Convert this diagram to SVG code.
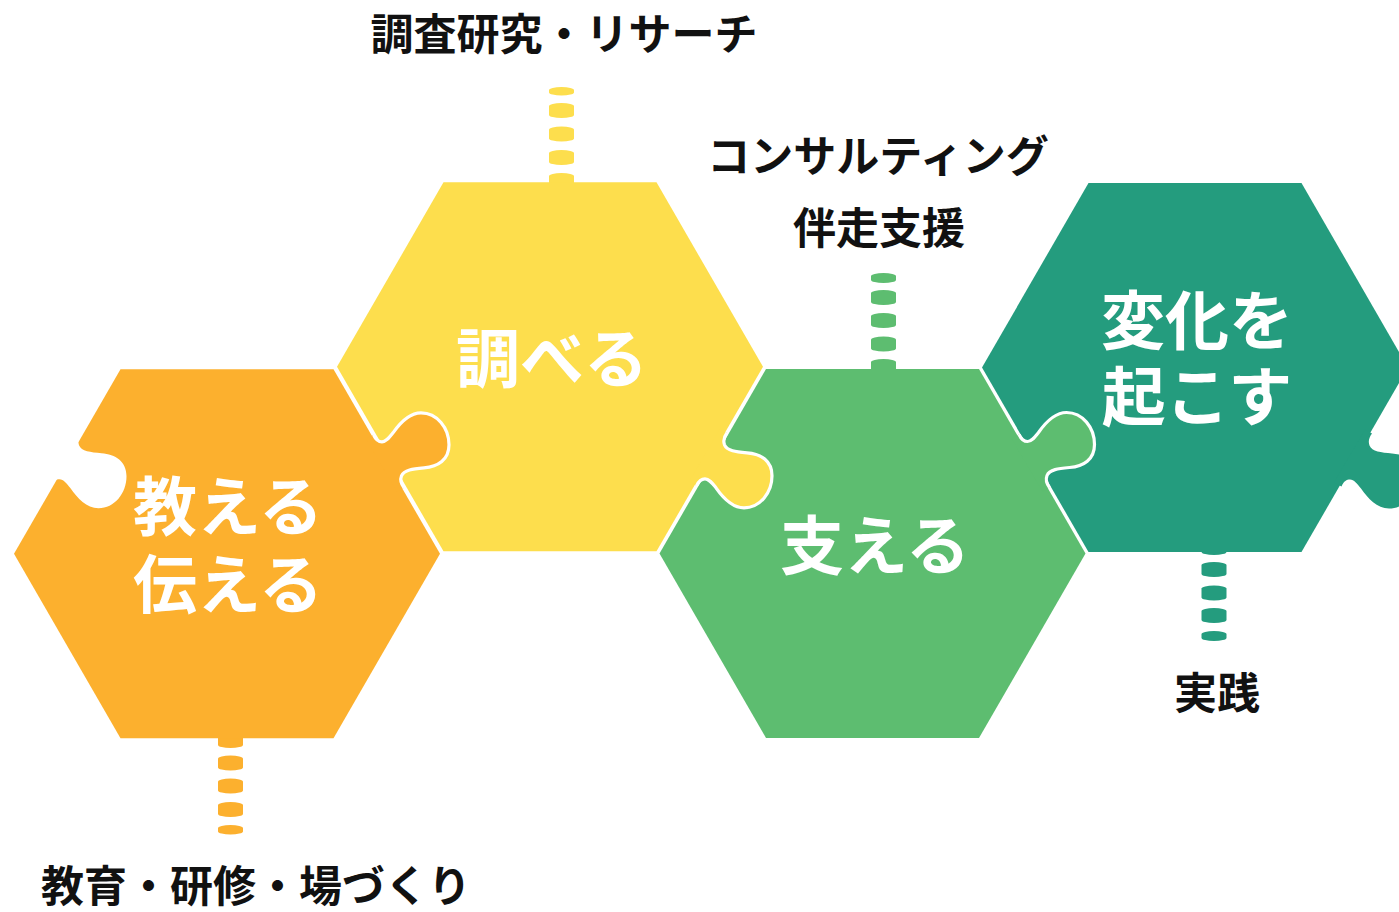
<svg xmlns="http://www.w3.org/2000/svg" xmlns:xlink="http://www.w3.org/1999/xlink" width="1399" height="912" viewBox="0 0 1399 912">
<style>
.lbl{font-family:"Noto Sans CJK JP","Noto Sans CJK SC",sans-serif;font-weight:700;font-size:43px;fill:#111;text-anchor:middle}
.hl{font-family:"Noto Sans CJK JP","Noto Sans CJK SC",sans-serif;font-weight:700;font-size:64px;fill:#fff;text-anchor:middle}
.ks{fill:none;stroke:#fff;stroke-width:3.2;stroke-linecap:butt;stroke-linejoin:round}
.or{fill:#FCB02E}.ye{fill:#FDDE4D}.gr{fill:#5DBD70}.te{fill:#249C7E}
</style>
<defs>
<polygon id="hex" points="-213,0 -106.5,-184.5 106.5,-184.5 213,0 106.5,184.5 -106.5,184.5"/>
<path id="knobFill" d="M146.5,-119 C149,-113.5 151.5,-112 155,-112 C159,-112 162,-116 166,-121 C173,-131 182,-141 194,-141 C210,-141 222,-126 222,-109 C222,-94 211,-87 197,-86 C186,-85 177,-84 174.5,-78 C173,-74 174,-70 177,-66 L170,-62 L139,-115 Z"/>
<path id="knobLine" d="M146.5,-119 C149,-113.5 151.5,-112 155,-112 C159,-112 162,-116 166,-121 C173,-131 182,-141 194,-141 C210,-141 222,-126 222,-109 C222,-94 211,-87 197,-86 C186,-85 177,-84 174.5,-78 C173,-74 174,-70 177,-66"/>
</defs>
<rect width="1399" height="912" fill="#fff"/>
<g id="connectors">
<g class="ye">
<rect x="549" y="87" width="25" height="8.5" rx="12.5" ry="3"/>
<rect x="549" y="103" width="25" height="15" rx="12.5" ry="3"/>
<rect x="549" y="126.5" width="25" height="15" rx="12.5" ry="3"/>
<rect x="549" y="150" width="25" height="15" rx="12.5" ry="3"/>
<rect x="549" y="173" width="25" height="14" rx="12.5" ry="3"/>
</g>
<g class="gr">
<rect x="871" y="273" width="25" height="10" rx="12.5" ry="3"/>
<rect x="871" y="290" width="25" height="15" rx="12.5" ry="3"/>
<rect x="871" y="313" width="25" height="15" rx="12.5" ry="3"/>
<rect x="871" y="336.5" width="25" height="15" rx="12.5" ry="3"/>
<rect x="871" y="359" width="25" height="14" rx="12.5" ry="3"/>
</g>
<g class="or">
<rect x="218" y="733" width="25" height="15" rx="12.5" ry="3"/>
<rect x="218" y="755.5" width="25" height="15" rx="12.5" ry="3"/>
<rect x="218" y="778.5" width="25" height="15" rx="12.5" ry="3"/>
<rect x="218" y="802" width="25" height="15" rx="12.5" ry="3"/>
<rect x="218" y="825" width="25" height="9.5" rx="12.5" ry="3"/>
</g>
<g class="te">
<rect x="1201.5" y="545" width="25" height="10" rx="12.5" ry="3"/>
<rect x="1201.5" y="562" width="25" height="15" rx="12.5" ry="3"/>
<rect x="1201.5" y="585.5" width="25" height="15" rx="12.5" ry="3"/>
<rect x="1201.5" y="608" width="25" height="15" rx="12.5" ry="3"/>
<rect x="1201.5" y="631" width="25" height="10" rx="12.5" ry="3"/>
</g>
<text class="lbl" x="564" y="50">調査研究・リサーチ</text>
<text class="lbl" x="878" y="172">コンサルティング</text>
<text class="lbl" x="879" y="244">伴走支援</text>
<text class="lbl" x="1217" y="709">実践</text>
<text class="lbl" x="256" y="902">教育・研修・場づくり</text>
</g>
<g id="node-change">
<use xlink:href="#hex" href="#hex" class="te" transform="translate(1195,367.5)"/>
<use xlink:href="#knobFill" href="#knobFill" class="te" transform="translate(1195,367.5) scale(1,-1)"/>
<text class="hl"><tspan x="1197" y="344">変化を</tspan><tspan x="1197" y="420">起こす</tspan></text>
</g>
<g id="node-support">
<use xlink:href="#hex" href="#hex" class="gr" transform="translate(872.5,553.5)"/>
<g transform="translate(872.5,553.5)">
<use xlink:href="#knobFill" href="#knobFill" class="gr"/>
<use xlink:href="#knobLine" href="#knobLine" class="ks"/>
</g>
<text class="hl" x="875" y="569">支える</text>
</g>
<g id="node-research">
<use xlink:href="#hex" href="#hex" class="ye" transform="translate(550,366.8)"/>
<g transform="translate(550,366.8) scale(1,-1)">
<use xlink:href="#knobFill" href="#knobFill" class="ye"/>
<use xlink:href="#knobLine" href="#knobLine" class="ks"/>
</g>
<text class="hl" x="552" y="382">調べる</text>
</g>
<g id="node-teach">
<use xlink:href="#hex" href="#hex" class="or" transform="translate(227,553.8)"/>
<use xlink:href="#knobFill" href="#knobFill" fill="#fff" transform="translate(-95.5,367.3) scale(1,-1)"/>
<g transform="translate(227,553.8)">
<use xlink:href="#knobFill" href="#knobFill" class="or"/>
<use xlink:href="#knobLine" href="#knobLine" class="ks"/>
</g>
<text class="hl"><tspan x="228" y="530">教える</tspan><tspan x="228" y="608">伝える</tspan></text>
</g>
</svg>
